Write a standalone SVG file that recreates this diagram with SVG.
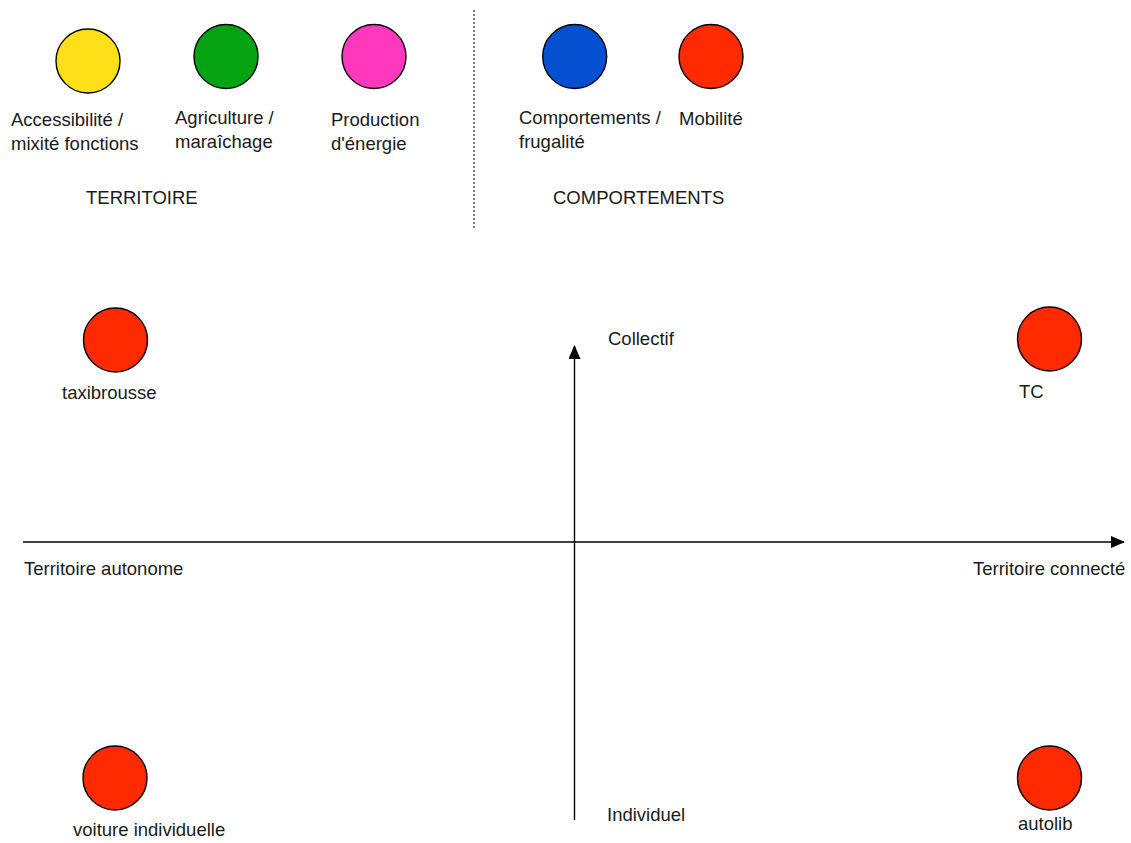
<svg xmlns="http://www.w3.org/2000/svg" width="1131" height="843" viewBox="0 0 1131 843">
<defs>
<style>
.n{stroke:#000;stroke-width:1.4}
.t{font-family:"Liberation Sans",Arial,sans-serif;font-size:18.5px;fill:#1a1a1a}
.ax{stroke:#000;stroke-width:1.4;fill:none}
</style>
<marker id="ah" viewBox="0 0 14 12" refX="13" refY="6" markerWidth="14" markerHeight="12" markerUnits="userSpaceOnUse" orient="auto">
<path d="M0,0 L14,6 L0,12 Z" fill="#000"/>
</marker>
</defs>
<rect width="1131" height="843" fill="#fff"/>
<g id="connectors">
<line class="ax" x1="23" y1="542" x2="1124" y2="542" marker-end="url(#ah)"/>
<line class="ax" x1="574.5" y1="820" x2="574.5" y2="346" marker-end="url(#ah)"/>
<line x1="474" y1="10" x2="474" y2="228" stroke="#000" stroke-width="1" stroke-dasharray="2,2"/>
</g>
<g id="accessibilite"><circle class="n" cx="88" cy="61" r="32" fill="#ffdf17"/>
<text class="t" x="11" y="126">Accessibilité /</text><text class="t" x="11" y="150">mixité fonctions</text></g>
<g id="agriculture"><circle class="n" cx="226" cy="56.5" r="32" fill="#05a312"/>
<text class="t" x="175" y="124">Agriculture /</text><text class="t" x="175" y="148">maraîchage</text></g>
<g id="energie"><circle class="n" cx="374" cy="56.5" r="32" fill="#ff38bd"/>
<text class="t" x="331" y="126">Production</text><text class="t" x="331" y="150">d'énergie</text></g>
<g id="comportements"><circle class="n" cx="574.7" cy="56.5" r="32" fill="#0550d0"/>
<text class="t" x="519" y="124">Comportements /</text><text class="t" x="519" y="148">frugalité</text></g>
<g id="mobilite"><circle class="n" cx="711" cy="56.5" r="32" fill="#ff2a00"/>
<text class="t" x="679" y="125">Mobilité</text></g>
<g id="territoire-label"><text class="t" x="86" y="204">TERRITOIRE</text></g>
<g id="comportements-label"><text class="t" x="553" y="204">COMPORTEMENTS</text></g>
<g id="taxibrousse"><circle class="n" cx="115.5" cy="340" r="32" fill="#ff2a00"/>
<text class="t" x="62" y="399">taxibrousse</text></g>
<g id="tc"><circle class="n" cx="1049.5" cy="339" r="32" fill="#ff2a00"/>
<text class="t" x="1019" y="398">TC</text></g>
<g id="voiture"><circle class="n" cx="115" cy="778" r="32" fill="#ff2a00"/>
<text class="t" x="73" y="836">voiture individuelle</text></g>
<g id="autolib"><circle class="n" cx="1049.5" cy="778" r="32" fill="#ff2a00"/>
<text class="t" x="1018" y="830">autolib</text></g>
<g id="collectif"><text class="t" x="608" y="345">Collectif</text></g>
<g id="individuel"><text class="t" x="607" y="821">Individuel</text></g>
<g id="autonome"><text class="t" x="24" y="575">Territoire autonome</text></g>
<g id="connecte"><text class="t" x="973" y="575">Territoire connecté</text></g>
</svg>
